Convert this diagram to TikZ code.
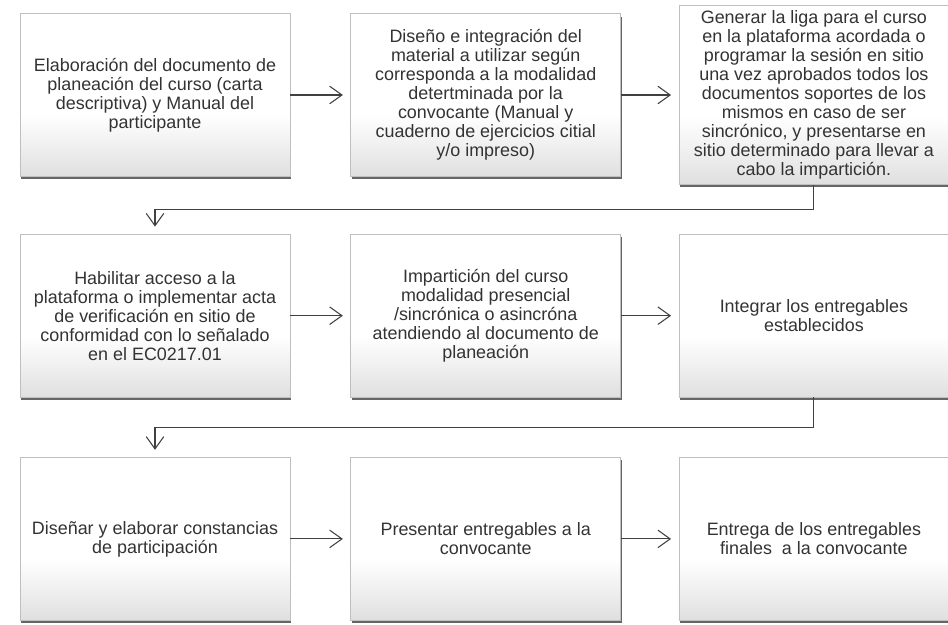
\documentclass[tikz,border=0pt]{standalone}
\usepackage{fontspec}
\setmainfont{Liberation Sans}
\usetikzlibrary{arrows.meta, positioning, shadows}
\pgfdeclareverticalshading{papel}{100bp}{color(0bp)=(gray!25); color(25bp)=(gray!25);
	color(33bp)=(gray!14); color(44bp)=(white); color(100bp)=(white)}
\tikzset{%
	paso/.style={draw=gray!50, rectangle, minimum width=5.4cm, minimum height=3.25cm,%
		inner sep=1mm, align=center, text=black!80,%
		font=\fontsize{10.2}{10.8}\selectfont, shading=papel,%
		drop shadow={shadow xshift=0.5pt, shadow yshift=-1.6pt, fill=black!60, opacity=1}},
	alto/.style={minimum height=3.4cm},
	flecha/.style={-{Straight Barb[length=7pt, width=10pt]}, line width=0.6pt,%
		draw=black!75, shorten >=0.15cm}
}

\begin{document}
\begin{tikzpicture}
	\useasboundingbox (0,0) rectangle (18.96,-12.5);

	% fila 1
	\node[paso] (p1) at (3.1,-1.9) {Elaboración del documento de\\planeación del curso (carta\\descriptiva) y Manual del\\participante};
	\node[paso, right=1.2cm of p1] (p2) {Diseño e integración del\\material a utilizar según\\corresponda a la modalidad\\detertminada por la\\convocante (Manual y\\cuaderno de ejercicios citial\\y/o impreso)};
	\node[paso, alto, right=1.15cm of p2] (p3) {Generar la liga para el curso\\en la plataforma acordada o\\programar la sesión en sitio\\una vez aprobados todos los\\documentos soportes de los\\mismos en caso de ser\\sincrónico, y presentarse en\\sitio determinado para llevar a\\cabo la impartición.};

	% fila 2
	\node[paso, below=1.15cm of p1] (p4) {Habilitar acceso a la\\plataforma o implementar acta\\de verificación en sitio de\\conformidad con lo señalado\\en el EC0217.01};
	\node[paso, right=1.2cm of p4] (p5) {Impartición del curso\\modalidad presencial\\/sincrónica o asincróna\\atendiendo al documento de\\planeación};
	\node[paso, right=1.15cm of p5] (p6) {Integrar los entregables\\establecidos};

	% fila 3
	\node[paso, below=1.2cm of p4] (p7) {Diseñar y elaborar constancias\\de participación};
	\node[paso, right=1.2cm of p7] (p8) {Presentar entregables a la\\convocante};
	\node[paso, right=1.15cm of p8] (p9) {Entrega de los entregables\\finales \ a la convocante};

	\draw[flecha] (p1) -- (p2);
	\draw[flecha] (p2) -- (p3);
	\draw[flecha] (p3.south) -- ++(0,-0.5) -| (p4.north);
	\draw[flecha] (p4) -- (p5);
	\draw[flecha] (p5) -- (p6);
	\draw[flecha] (p6.south) -- ++(0,-0.6) -| (p7.north);
	\draw[flecha] (p7) -- (p8);
	\draw[flecha] (p8) -- (p9);
\end{tikzpicture}
\end{document}
